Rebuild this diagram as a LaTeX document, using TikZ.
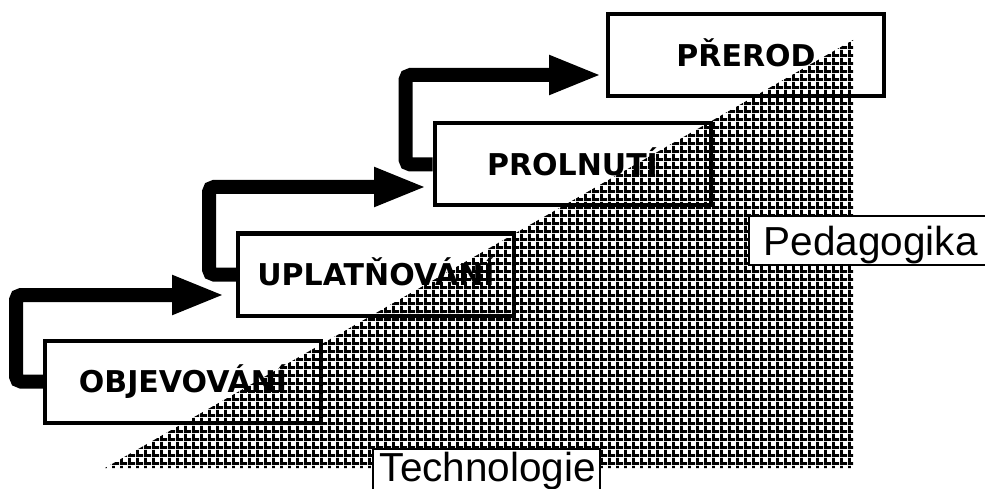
\documentclass[tikz,border=0pt]{standalone}
\usepackage{fontspec}
\newfontfamily\boxfont{DejaVu Sans}
\newfontfamily\lblfont{Liberation Sans}
\usetikzlibrary{arrows.meta,patterns.meta}
\pgfdeclarepattern{
  name=meshdots,
  type=uncolored,
  bottom left={\pgfpoint{0pt}{0pt}},
  top right={\pgfpoint{8pt}{8pt}},
  tile size={\pgfpoint{8pt}{8pt}},
  code={
    \pgfpathrectangle{\pgfpointorigin}{\pgfpoint{8pt}{3.3pt}}
    \pgfpathrectangle{\pgfpointorigin}{\pgfpoint{3.3pt}{8pt}}
    \pgfusepath{fill}
  }
}
\tikzset{
  stagebox/.style={draw=black, line width=4pt, minimum width=276pt, minimum height=82pt,
    inner sep=0pt, text height=21.9pt, text depth=0pt,
    font=\boxfont\bfseries\fontsize{30}{36}\selectfont},
  flow/.style={line width=14pt, rounded corners=5pt,
    -{Triangle[length=53pt,width=36pt]}},
  lbl/.style={draw=black, line width=1.5pt, fill=white, inner sep=0pt,
    font=\lblfont\fontsize{40.5}{48}\selectfont},
  tri/.style={pattern=meshdots, pattern color=black}
}
\begin{document}
\begin{tikzpicture}[x=1pt,y=-1pt]
\useasboundingbox (0,0) rectangle (985,489);
\node[stagebox] (b1) at (183,381.5) {OBJEVOVÁNÍ};
\node[stagebox] (b2) at (376,274.5) {UPLATŇOVÁNÍ};
\node[stagebox] (b3) at (572.5,164.5) {PROLNUTÍ};
\node[stagebox] (b4) at (746,55.5) {PŘEROD};
\coordinate (t1) at (225,295);
\coordinate (t2) at (427,187);
\coordinate (t3) at (602,75);
\draw[flow] (b1.west) -- ++(-27,0) |- (t1);
\draw[flow] (b2.west) -- ++(-27,0) |- (t2);
\draw[flow] (b3.west) -- ++(-27,0) |- (t3);
\fill[tri] (105,468) -- (853,40) -- (853,468) -- cycle;
\node[lbl, anchor=west, minimum height=49pt, text height=29pt, text depth=0pt] (ped) at (748,240.5)
  {\makebox[300pt][l]{\hspace{15pt}Pedagogika}};
\node[lbl, anchor=north west, minimum height=60pt, text height=29pt, text depth=23pt, inner ysep=0pt] (tech) at (372,448)
  {\makebox[227pt][l]{\hspace{7pt}Technologie}};
\end{tikzpicture}
\end{document}
